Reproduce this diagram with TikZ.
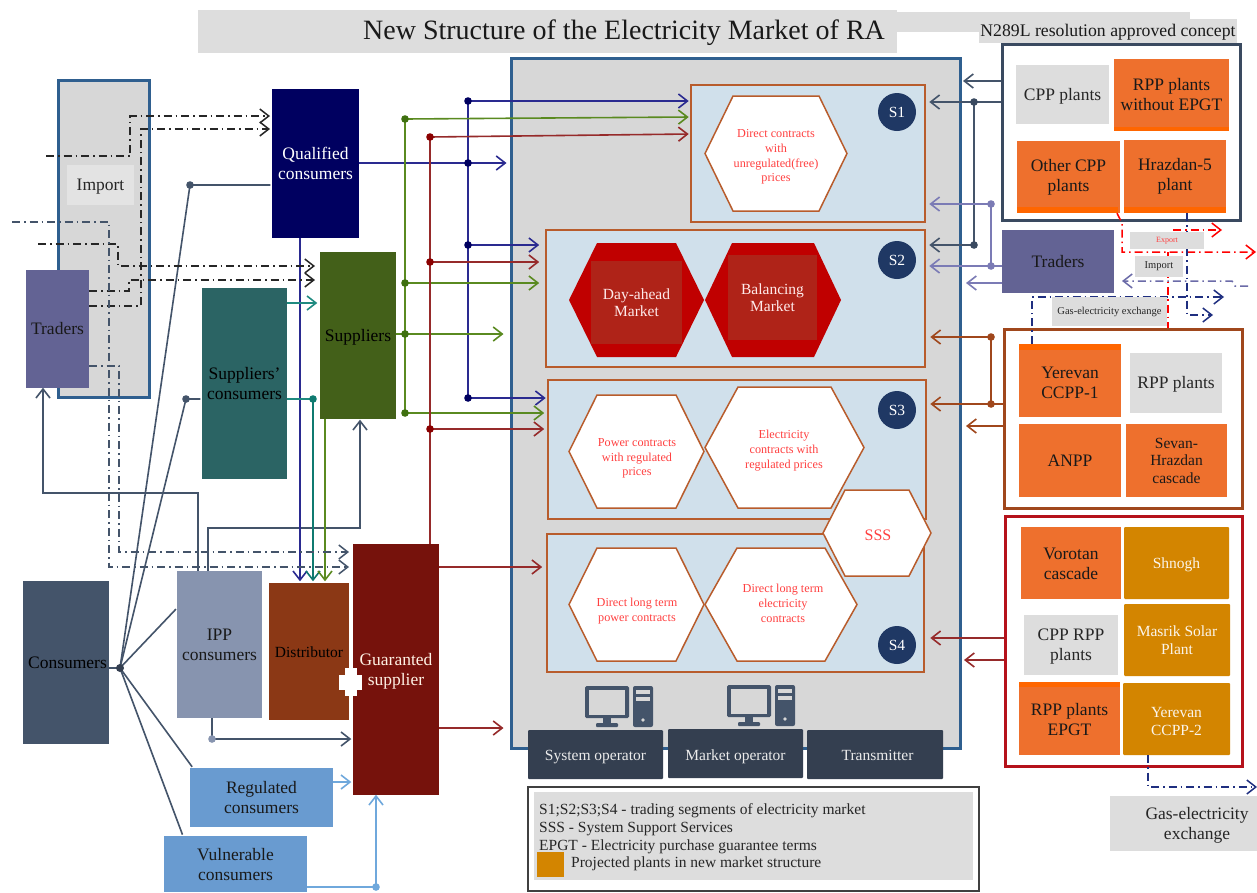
\documentclass[tikz,border=0pt]{standalone}
\usepackage{fontspec}
\setmainfont{Liberation Serif}
\usetikzlibrary{arrows.meta,calc}
\definecolor{grayA}{HTML}{D7D7D7}
\definecolor{grayB}{HTML}{DDDDDD}
\definecolor{frameblue}{HTML}{2F5F8F}
\definecolor{slate}{HTML}{44546A}
\definecolor{slatedark}{HTML}{343F50}
\definecolor{framedark}{HTML}{3A4A60}
\definecolor{orangeA}{HTML}{EE702D}
\definecolor{orangeB}{HTML}{FF6600}
\definecolor{gold}{HTML}{D38500}
\definecolor{purpleA}{HTML}{636394}
\definecolor{purpleL}{HTML}{7B7BB5}
\definecolor{navy}{HTML}{000060}
\definecolor{navyL}{HTML}{2A2A90}
\definecolor{greenA}{HTML}{436019}
\definecolor{greenL}{HTML}{5A8A20}
\definecolor{greenD}{HTML}{3F7010}
\definecolor{tealA}{HTML}{2B6464}
\definecolor{tealL}{HTML}{1F8A80}
\definecolor{tealD}{HTML}{0F7A70}
\definecolor{redL}{HTML}{962A2A}
\definecolor{redD}{HTML}{8B0000}
\definecolor{maroon}{HTML}{76120C}
\definecolor{rust}{HTML}{8B3815}
\definecolor{brownF}{HTML}{A0471C}
\definecolor{segline}{HTML}{B85C2C}
\definecolor{segfill}{HTML}{D0E0EB}
\definecolor{ippfill}{HTML}{8794AF}
\definecolor{skyA}{HTML}{699BD0}
\definecolor{skyL}{HTML}{6FA8DC}
\definecolor{hexred}{HTML}{C00000}
\definecolor{hexin}{HTML}{AF2318}
\definecolor{redtxt}{HTML}{FF4040}
\definecolor{circ}{HTML}{1F3864}
\definecolor{framered}{HTML}{B5121B}
\definecolor{dashblue}{HTML}{1F2F80}
\definecolor{dashgray}{HTML}{6B6BA8}
\tikzset{
 fA/.style={font=\fontsize{17.5}{20}\selectfont},
 fB/.style={font=\fontsize{15.5}{17.5}\selectfont},
 fC/.style={font=\fontsize{12.2}{14.7}\selectfont},
 plant/.style={fill=orangeA,text=black!90,fA},
 grayplant/.style={fill=grayB,text=black!85,fA},
 goldplant/.style={fill=gold,text=white!92!gold,fB,rounded corners=1pt},
 seg/.style={fill=segfill,draw=segline,line width=1.6pt},
 conn/.style={line width=1.6pt,>={Straight Barb[length=9pt,width=14pt]},shorten >=1.5pt},
 dd/.style={line width=1.5pt,dash pattern=on 8pt off 4pt on 1.5pt off 4pt,>={Straight Barb[length=9pt,width=14pt]}},
 hexw/.style={fill=white,draw=segline,line width=1.5pt},
 hexr/.style={fill=hexred},
 segcirc/.style={circle,fill=circ,text=white,minimum size=38pt,inner sep=0pt,fB},
 hextxt/.style={fC,text=redtxt,align=center,inner sep=0pt},
 optr/.style={fill=slatedark,text=white!92!black,fB,rounded corners=1pt},
}
\newcommand\dn[2]{\raisebox{\dimexpr-#1pt-.25em-1.7pt\relax}[0pt][0pt]{\begin{tabular}{@{}c@{}}#2\end{tabular}}}
\newcommand\bx[7]{%
 \pgfmathsetmacro\cxx{(#2+#4)/2}\pgfmathsetmacro\cyy{(#3+#5)/2}%
 \pgfmathsetmacro\wdd{#4-#2}\pgfmathsetmacro\htt{#5-#3}%
 \node[#6,minimum width=\wdd pt,minimum height=\htt pt,inner sep=0pt,align=center] (#1) at (\cxx,\cyy) {#7};}
% name x0 x1 y0 y1 inset style textcentre-x,y text
\newcommand\hx[9]{%
 \pgfmathsetmacro\ymm{(#4+#5)/2}%
 \path[#7] (#2,\ymm) -- ({#2+#6},#4) -- ({#3-#6},#4) -- (#3,\ymm) -- ({#3-#6},#5) -- ({#2+#6},#5) -- cycle;
 \node[hextxt] (#1) at (#8) {#9};}
\newcommand\pcicon[2]{%
 \begin{scope}[shift={(#1,#2)}]
 \fill[slate,rounded corners=1.5pt] (0,0) rectangle (44,32);
 \fill[grayA] (4,3.5) rectangle (40,28.5);
 \fill[slate] (18,32) rectangle (26,37);
 \fill[slate,rounded corners=1pt] (11,37) rectangle (33,41);
 \fill[slate,rounded corners=2pt] (48,0) rectangle (68,41);
 \fill[grayA] (51,3.5) rectangle (65,8);
 \fill[grayA] (51,11) rectangle (65,15);
 \fill[grayA] (58,34) circle (1.8);
 \end{scope}}
\begin{document}
\begin{tikzpicture}[x=1pt,y=-1pt]
\useasboundingbox (0,0) rectangle (1257,892);
\fill[white] (0,0) rectangle (1257,892);
% ---- header
\fill[grayB] (897,12) rectangle (1190,32);
\bx{title}{198}{10}{897}{53}{fill=grayB}{}
\node[font=\fontsize{28}{30}\selectfont,text=black!90,inner sep=0pt] (titletext) at (624,33) {New Structure of the Electricity Market of RA};
\bx{resol}{979}{19}{1237}{43}{fill=grayB,text=black!90,font=\fontsize{17.7}{20}\selectfont}{\dn{0}{N289L resolution approved concept}}
% ---- left boxes
\bx{importbox}{58}{80}{149}{397}{fill=grayA,draw=frameblue,line width=3pt}{}
\bx{importlab}{67}{165}{134}{205}{fill=white!30!grayA,text=black!85,fA}{\dn{0}{Import}}
\bx{tradersL}{26}{270}{89}{388}{fill=purpleA,text=black!90,fA}{Traders}
\bx{qual}{272}{89}{359}{238}{fill=navy,text=white,fA}{Qualified\\consumers}
\bx{suppliers}{320}{252}{396}{419}{fill=greenA,text=black,fA}{\dn{0}{Suppliers}}
\bx{supcons}{202}{288}{287}{479}{fill=tealA,text=black,fA}{Suppliers’\\consumers}
\bx{consumers}{23}{581}{109}{744}{fill=slate,text=black,fA}{\dn{0.5}{\hspace*{3pt}Consumers}}
\bx{ipp}{177}{571}{262}{718}{fill=ippfill,text=black!90,fA}{\dn{0.5}{IPP\\consumers}}
\bx{distr}{269}{583}{349}{720}{fill=rust,text=black,font=\fontsize{15.5}{18}\selectfont}{\dn{0.5}{Distributor}}
\bx{regul}{190}{768}{333}{827}{fill=skyA,text=black!90,fA}{\dn{0.5}{Regulated\\consumers}}
\bx{vuln}{164}{836}{307}{892}{fill=skyA,text=black!90,fA}{Vulnerable\\consumers}
\bx{guar}{353}{544}{439}{795}{fill=maroon,text=white!90!orange,fA}{\dn{0}{Guaranted\\supplier}}
% ---- main market box
\bx{main}{511}{58}{960}{748}{fill=grayA,draw=frameblue,line width=3pt}{}
\bx{segA}{691}{85}{925}{222}{seg}{}
\bx{segB}{546}{230}{925}{367}{seg}{}
\bx{segC}{548}{380}{926}{519}{seg}{}
\bx{segD}{547}{534}{924}{672}{seg}{}
\hx{hexDirect}{705}{847}{96}{211}{28}{hexw}{776,157}{Direct contracts\\with\\unregulated(free)\\prices}
\hx{hexDay}{569}{704}{243}{357}{28}{hexr}{636,302}{}
\hx{hexBal}{705}{841}{243}{357}{27}{hexr}{773,297}{}
\bx{dayin}{591}{261}{682}{344}{fill=hexin,text=white!92!red,fB}{Day-ahead\\Market}
\bx{balin}{728}{255}{817}{340}{fill=hexin,text=white!92!red,fB}{Balancing\\Market}
\hx{hexPow}{569}{704}{395}{508}{28}{hexw}{637,458.5}{Power contracts\\with regulated\\prices}
\hx{hexEle}{705}{864}{387}{508}{33}{hexw}{784,450.5}{Electricity\\contracts with\\regulated prices}
\hx{hexLongP}{569}{704}{548}{661}{28}{hexw}{637,611}{Direct long term\\power contracts}
\hx{hexLongE}{705}{857}{548}{661}{32}{hexw}{783,603.5}{Direct long term\\electricity\\contracts}
\hx{hexSSS}{823}{931}{490}{576}{22}{hexw}{878,535}{\fontsize{16}{18}\selectfont SSS}
\node[segcirc] (circA) at (897,112) {S1};
\node[segcirc] (circB) at (897,260) {S2};
\node[segcirc] (circC) at (897,410) {S3};
\node[segcirc] (circD) at (897,645) {S4};
\pcicon{585}{686}
\pcicon{727}{685}
\bx{sysop}{528}{730}{663}{779}{optr}{\dn{0.5}{System operator}}
\bx{mktop}{668}{729}{803}{778}{optr}{\dn{1.5}{Market operator}}
\bx{transm}{807}{730}{943}{779}{optr}{\dn{0.5}{\hspace*{5pt}Transmitter}}
% ---- legend
\bx{legend}{528}{787}{979}{891}{fill=white,draw=black!75,line width=1.4pt}{}
\fill[grayB] (534,792) rectangle (973,880);
\node[anchor=west,inner sep=0pt,fB,text=black!85] (legA) at (539,811) {S1;S2;S3;S4 - trading segments of electricity market};
\node[anchor=west,inner sep=0pt,fB,text=black!85] (legB) at (539,829) {SSS - System Support Services};
\node[anchor=west,inner sep=0pt,fB,text=black!85] (legC) at (539,846.5) {EPGT - Electricity purchase guarantee terms};
\bx{legsq}{537}{852}{564}{877}{fill=gold}{}
\node[anchor=west,inner sep=0pt,fB,text=black!85] (legD) at (571,864) {Projected plants in new market structure};
% ---- right plant groups
\bx{groupA}{1002}{44}{1240}{220}{fill=white,draw=framedark,line width=3pt}{}
\bx{cppP}{1016}{65}{1109}{124}{grayplant}{\dn{0}{CPP plants}}
\bx{rppNo}{1114}{59}{1229}{131}{plant}{RPP plants\\without EPGT}
\fill[orangeB] (1114,127) rectangle (1229,131);
\bx{otherCpp}{1017}{141}{1120}{213}{plant}{Other CPP\\plants}
\fill[orangeB] (1017,207) rectangle (1118,213);
\bx{hraz}{1124}{140}{1226}{213}{plant}{Hrazdan-5\\plant}
\fill[orangeB] (1124,207) rectangle (1226,213);
\bx{tradersR}{1002}{230}{1114}{293}{fill=purpleA,text=black!90,fA}{Traders}
\bx{groupB}{1004}{329}{1242}{508}{fill=white,draw=brownF,line width=3pt}{}
\bx{yerA}{1019}{344}{1121}{417}{plant}{\dn{2.5}{Yerevan\\CCPP-1}}
\fill[orangeB] (1019,344) rectangle (1121,350);
\bx{rppP}{1130}{353}{1222}{413}{grayplant}{\dn{0}{RPP plants}}
\bx{anpp}{1019}{424}{1121}{497}{plant}{ANPP}
\bx{sevan}{1126}{424}{1227}{497}{plant,fB}{Sevan-\\Hrazdan\\cascade}
\bx{groupC}{1005}{516}{1242}{766}{fill=white,draw=framered,line width=3pt}{}
\bx{vorot}{1021}{527}{1121}{599}{plant}{\dn{1}{Vorotan\\cascade}}
\bx{shnogh}{1124}{527}{1229}{599}{goldplant}{\dn{0}{Shnogh}}
\bx{masrik}{1124}{604}{1230}{676}{goldplant}{Masrik Solar\\Plant}
\bx{cpprpp}{1024}{615}{1118}{675}{grayplant}{\dn{0}{CPP RPP\\plants}}
\bx{rppE}{1019}{682}{1120}{755}{plant}{\dn{1.5}{RPP plants\\EPGT}}
\fill[orangeB] (1019,682) rectangle (1120,687);
\bx{yerB}{1123}{683}{1230}{755}{goldplant}{\dn{2}{Yerevan\\CCPP-2}}
\bx{gasbox}{1110}{796}{1257}{851}{fill=grayB}{}
\node[fA,text=black!85,align=center,inner sep=0pt] (gaslab) at (1197,825.5) {Gas-electricity\\exchange};
% ---- junctions
\coordinate (hub) at (120,668);
\coordinate (jq) at (190,185);
\coordinate (js) at (186,399);
\foreach \n/\y in {1/101,2/163,3/245,4/398}{\coordinate (b\n) at (468,\y);}
\foreach \n/\y in {1/119,2/283,3/334,4/413}{\coordinate (g\n) at (405,\y);}
\foreach \n/\y in {1/137,2/262,3/429}{\coordinate (r\n) at (430,\y);}
\coordinate (tq) at (313,399);
\coordinate (cIpp) at (177,608);
\coordinate (cReg) at (193,768);
\coordinate (cVul) at (183,836);
\coordinate (ia) at (198,493);
\coordinate (ib) at (43,493);
\coordinate (ic) at (208,528);
\coordinate (id) at (360,528);
\coordinate (ie) at (212,739);
\coordinate (reg) at (333,782);
\coordinate (vu) at (376,887);
\coordinate (sct) at (287,303);
\coordinate (ga) at (439,567);
\coordinate (gb) at (439,728);
\coordinate (jr1) at (974,102);
\coordinate (jr2) at (974,245);
\coordinate (jt1) at (991,204);
\coordinate (jt2) at (991,266);
\coordinate (jb1) at (991,337);
\coordinate (jb2) at (991,404);
\coordinate (ra) at (985,81);
\coordinate (rb) at (985,283);
\coordinate (rc) at (985,426);
\coordinate (rd) at (985,638);
\coordinate (re) at (985,660);
\coordinate (dq) at (300,400);
\coordinate (ds) at (325,500);
\coordinate (ga1) at (0,117);
\coordinate (ra1) at (0,134);
% ---- consumers' connectors
\begin{scope}[conn,slate]
\draw (consumers.east |- hub) -- (hub);
\draw (hub) -- (jq) -- (qual.west |- jq);
\draw (hub) -- (js) -- (supcons.west |- js);
\draw (hub) -- (cIpp);
\draw (hub) -- (cReg);
\draw (hub) -- (cVul);
\draw[->] (ipp.north -| ia) -- (ia) -- (ib) -- ([yshift=2pt]tradersL.south -| ib);
\draw[->] (ipp.north -| ic) -- (ic) -- (id) -- ([yshift=1pt]suppliers.south -| id);
\draw (ipp.south -| ie) -- (ie);
\draw[->] (ie) -- (guar.west |- ie);
\end{scope}
% ---- into distributor
\draw[conn,navyL,->] (qual.south -| dq) -- (distr.north -| dq);
\draw[conn,tealD,->] (tq) -- (distr.north -| tq);
\draw[conn,greenL,->] (suppliers.south -| ds) -- (distr.north -| ds);
\draw[conn,tealL] (supcons.east |- tq) -- (tq);
\draw[conn,tealL,->] (sct) -- ([xshift=-1pt]suppliers.west |- sct);
\draw[conn,skyL,->] (reg) -- (guar.west |- reg);
\draw[conn,skyL] (vuln.east |- vu) -- (vu);
\draw[conn,skyL,->] (vu) -- ([yshift=2pt]guar.south -| vu);
% ---- blue
\begin{scope}[conn,navyL]
\draw (b1) -- (b4);
\draw (qual.east |- b2) -- (b2);
\draw[->,shorten >=3pt] (b2) -- (main.west |- b2);
\draw[->] (b1) -- (segA.west |- b1);
\draw[->,shorten >=6pt] (b3) -- (segB.west |- b3);
\draw[->] (b4) -- (segC.west |- b4);
\end{scope}
% ---- green
\begin{scope}[conn,greenL]
\draw (g1) -- (g4);
\draw (suppliers.east |- g3) -- (g3);
\draw[->,shorten >=6pt] (g3) -- (main.west |- g3);
\draw[->] (g1) -- (segA.west |- ga1);
\draw[->,shorten >=6pt] (g2) -- (segB.west |- g2);
\draw[->,shorten >=3pt] (g4) -- (segC.west |- g4);
\end{scope}
% ---- red
\begin{scope}[conn,redL]
\draw (guar.north -| r1) -- (r1);
\draw[->] (r1) -- (segA.west |- ra1);
\draw[->,shorten >=6pt] (r2) -- (segB.west |- r2);
\draw[->,shorten >=3pt] (r3) -- (segC.west |- r3);
\draw[->,shorten >=4pt] (guar.east |- ga) -- (segD.west |- ga);
\draw[->,shorten >=6pt] (guar.east |- gb) -- (main.west |- gb);
\end{scope}
% ---- right side
\begin{scope}[conn,slate]
\draw[->] (groupA.west |- ra) -- (main.east |- ra);
\draw (groupA.west |- jr1) -- (jr1);
\draw[->] (jr1) -- ([xshift=2pt]segA.east |- jr1);
\draw (jr1) -- (jr2);
\draw[->] (jr2) -- ([xshift=2pt]segB.east |- jr2);
\end{scope}
\begin{scope}[conn,purpleL]
\draw (tradersR.west |- jt2) -- (jt2);
\draw (jt1) -- (jt2);
\draw[->] (jt1) -- ([xshift=2pt]segA.east |- jt1);
\draw[->] (jt2) -- ([xshift=2pt]segB.east |- jt2);
\draw[->] (tradersR.west |- rb) -- ([xshift=3pt]main.east |- rb);
\end{scope}
\begin{scope}[conn,brownF]
\draw (groupB.west |- jb2) -- (jb2);
\draw (jb1) -- (jb2);
\draw[->] (jb1) -- ([xshift=3pt]segB.east |- jb1);
\draw[->] (jb2) -- ([xshift=2pt]segC.east |- jb2);
\draw[->] (groupB.west |- rc) -- ([xshift=3pt]main.east |- rc);
\end{scope}
\begin{scope}[conn,redL]
\draw[->] (groupC.west |- rd) -- ([xshift=4pt]segD.east |- rd);
\draw[->] (groupC.west |- re) -- ([xshift=1pt]main.east |- re);
\end{scope}
% ---- dash-dot: left
\coordinate (da) at (46,156);
\coordinate (db) at (38,244);
\coordinate (dc) at (12,222);
\coordinate (ta) at (270,116);
\coordinate (tb) at (270,129);
\coordinate (tc) at (315,266);
\coordinate (td) at (315,280);
\coordinate (te) at (349,567);
\coordinate (tf) at (349,552);
\coordinate (sa) at (0,306);
\coordinate (sb) at (0,291);
\coordinate (sc) at (0,366);
\begin{scope}[dd,black!85]
\draw[->] (da) -- (130,156) -- (130,116) -- (ta);
\draw[->] (tradersL.east |- sa) -- (141,306) -- (141,129) -- (tb);
\draw[->] (db) -- (118,244) -- (118,266) -- (tc);
\draw[->] (tradersL.east |- sb) -- (129,291) -- (129,280) -- (td);
\end{scope}
\begin{scope}[dd,slate]
\draw[->] (dc) -- (109,222) -- (109,567) -- (te);
\draw[->] (tradersL.east |- sc) -- (119,366) -- (119,552) -- (tf);
\end{scope}
% ---- dash-dot: right
\coordinate (ea) at (1256,252);
\coordinate (eb) at (1222,230);
\coordinate (ec) at (1168,252);
\coordinate (fa) at (1224,297);
\coordinate (fb) at (1213,315);
\coordinate (fc) at (1187,297);
\coordinate (ia2) at (1122,281);
\coordinate (fd) at (1257,787);
\coordinate (fe) at (1148,787);
\coordinate (oc) at (1117,220);
\coordinate (hz) at (1187,220);
\coordinate (yz) at (1032,300);
\begin{scope}[dd,red]
\draw[->] (otherCpp.south -| oc) -- (1122,223) -- (1122,252) -- (ea);
\draw[->] (1173,230) -- (eb);
\draw (ec) -- (groupB.north -| ec);
\end{scope}
\begin{scope}[dd,dashblue]
\draw[->] (hraz.south -| hz) -- (1187,315) -- (fb);
\draw[->] (yerA.north -| yz) -- (1032,297) -- (fa);
\draw[->] (yerB.south -| fe) -- (fe) -- (fd);
\end{scope}
\draw[dd,dashgray,->] (1248,286) -- (1235,286) -- (1232,281) -- (ia2);
\bx{exportb}{1130}{232}{1204}{249}{fill=grayB,text=redtxt,font=\fontsize{8}{9}\selectfont}{Export}
\bx{importb}{1135}{256}{1183}{277}{fill=grayB,text=black!85,font=\fontsize{10.5}{12}\selectfont}{Import}
\bx{gasmid}{1052}{297}{1167}{326}{fill=grayB,text=black!85,font=\fontsize{10.5}{12}\selectfont}{Gas-electricity exchange}
% ---- dots
\foreach \c in {b1,b2,b3,b4}{\fill[navy] (\c) circle (3.8);}
\foreach \c in {g1,g2,g3,g4}{\fill[greenD] (\c) circle (3.8);}
\foreach \c in {r1,r2,r3}{\fill[redD] (\c) circle (3.8);}
\fill[tealD] (tq) circle (3.8);
\fill[slate] (jq) circle (3.8);
\fill[slate] (js) circle (3.8);
\fill[slatedark] (hub) circle (4);
\fill[ippfill] (ie) circle (3.8);
\fill[skyL] (vu) circle (3.8);
\fill[framedark] (jr1) circle (3.8);
\fill[framedark] (jr2) circle (3.8);
\fill[purpleL] (jt1) circle (3.8);
\fill[purpleL] (jt2) circle (3.8);
\fill[brownF] (jb1) circle (3.8);
\fill[brownF] (jb2) circle (3.8);
% white cross on the guaranteed supplier's edge
\fill[white] (339,675) rectangle (362,690);
\fill[white] (345,668) rectangle (357,696);
\end{tikzpicture}
\end{document}
